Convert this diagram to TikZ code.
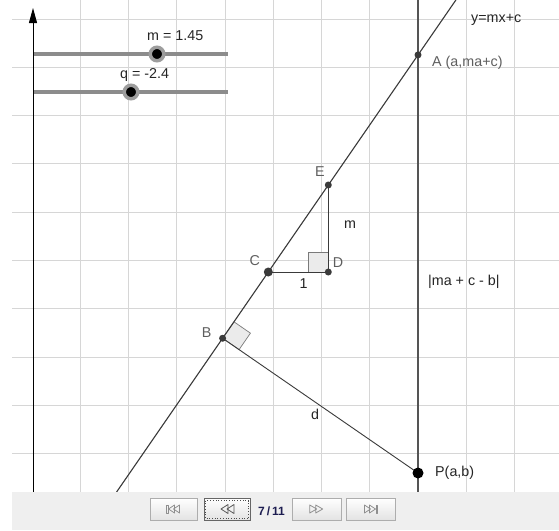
\documentclass[tikz,border=0pt]{standalone}
\usepackage{fontspec}
\setmainfont{Liberation Sans}
\usetikzlibrary{calc,arrows.meta}
\definecolor{gridc}{HTML}{D6D6D6}
\definecolor{txtdark}{HTML}{252525}
\definecolor{txtgray}{HTML}{5E5E5E}
\definecolor{linec}{HTML}{3A3A3A}
\definecolor{vlinec}{HTML}{555555}
\definecolor{slidec}{HTML}{8C8C8C}
\definecolor{panelc}{HTML}{EFEFEF}
\definecolor{btnb}{HTML}{ADADAD}
\definecolor{iconc}{HTML}{8E8E8E}
\definecolor{navy}{HTML}{1C1C50}
\definecolor{anglef}{HTML}{EBEBEB}
\definecolor{angleb}{HTML}{7A7A7A}
\begin{document}
\begin{tikzpicture}[x=1pt,y=-1pt,
  gridline/.style={draw=gridc, line width=1pt},
  lbl/.style={font=\fontsize{14.3}{16}\selectfont, inner sep=0pt, anchor=base west, text=txtdark},
  plbl/.style={lbl, text=txtgray},
  pt/.style={circle, fill=linec, inner sep=0pt, minimum size=7pt},
  bigpt/.style={circle, fill=black, inner sep=0pt, minimum size=11pt},
  seg/.style={draw=linec, line width=0.9pt},
  track/.style={draw=slidec, line width=4pt},
  handle/.style={circle, fill=black, inner sep=0pt, minimum size=13.5pt, draw=slidec!85, line width=3.5pt},
  anglesq/.style={fill=anglef, draw=angleb, line width=0.7pt},
  btn/.style={draw=btnb, top color=white, bottom color=black!11, inner sep=0pt, minimum height=22pt, line width=0.8pt},
  icon/.style={draw=iconc, line width=0.8pt, line join=round}
]
\useasboundingbox[fill=white] (0,0) rectangle (559,530);

% grid
\foreach \gx in {80,128.3,176.6,225,273.2,321.5,369.8,418.1,466.4,514.7}
  \draw[gridline] (\gx,0) -- (\gx,492);
\foreach \gy in {19,67.3,115.6,163.9,212.2,260.5,308.8,357.1,405.4,453.7}
  \draw[gridline] (12,\gy) -- (559,\gy);

% sliders
\coordinate (ms0) at (33,54);
\coordinate (ms1) at (228,54);
\coordinate (qs0) at (33,92);
\coordinate (qs1) at (228,92);
\draw[track] (ms0) -- (ms1);
\draw[track] (qs0) -- (qs1);

% y-axis
\coordinate (ax0) at (33,492);
\coordinate (ax1) at (33,8);
\draw[black, line width=0.9pt, -{Triangle[length=15pt,width=8pt]}] (ax0) -- (ax1);

\node[handle] (mh) at (157,54) {};
\node[handle] (qh) at (131,92) {};
\node[lbl] (mlab) at (147,40) {m = 1.45};
\node[lbl] (qlab) at (120,78) {q = -2.4};

% main geometry
\coordinate (cC) at (268.3,272);
\coordinate (cA) at ($(cC)+(149.7,-217.1)$);
\coordinate (cD) at ($(cC)+(60,0)$);
\coordinate (cE) at ($(cD)+(0,-87)$);
\coordinate (cP) at (418,473);
\coordinate (cB) at ($(cC)!(cP)!(cA)$);
\coordinate (Ltop) at (455.9,0);
\coordinate (Lbot) at (116.6,492);
\coordinate (Vtop) at (418,0);
\coordinate (Vbot) at (418,492);

% right angle squares
\coordinate (B1) at ($(cB)!20pt!(cA)$);
\coordinate (B2) at ($(cB)!20pt!(cP)$);
\draw[anglesq] (cB) -- (B1) -- ($(B1)+(B2)-(cB)$) -- (B2) -- cycle;
\draw[anglesq] ($(cD)+(-20,-20)$) rectangle (cD);

% lines
\draw[draw=linec, line width=1.1pt] (Lbot) -- (Ltop);
\draw[draw=vlinec, line width=2.3pt] (Vtop) -- (Vbot);
\draw[seg] (cC) -- (cD) -- (cE);
\draw[seg] (cB) -- (cP);

% points
\node[pt] (A) at (cA) {};
\node[pt] (B) at (cB) {};
\node[pt, minimum size=9pt] (C) at (cC) {};
\node[pt] (D) at (cD) {};
\node[pt] (E) at (cE) {};
\node[bigpt] (P) at (cP) {};

% labels
\node[lbl] (eqlab) at (471,22.5) {y=mx+c};
\node[plbl] (Alab) at (432,66.5) {A (a,ma+c)};
\node[plbl] (Elab) at (315,176.7) {E};
\node[lbl] (mseg) at (344,228.3) {m};
\node[plbl] (Clab) at (249.3,265) {C};
\node[plbl] (Dlab) at (332.7,267) {D};
\node[lbl] (one) at (299.3,288) {1};
\node[plbl] (Blab) at (201.7,337) {B};
\node[lbl] (dlab) at (311,419) {d};
\node[lbl] (dist) at (428,285) {|ma + c - b|};
\node[lbl] (Plab) at (435,476) {P(a,b)};

% bottom panel
\fill[panelc] (12,492) rectangle (559,530);
\node[btn, minimum width=47pt] (b1) at (173.5,509) {};
\node[btn, minimum width=46pt, draw=black!60] (b2) at (227,509) {};
\node[btn, minimum width=49pt] (b3) at (316.5,509) {};
\node[btn, minimum width=49pt] (b4) at (370.5,509) {};
\node[inner sep=0pt, anchor=base west, text=navy, font=\fontsize{12}{14}\selectfont\bfseries] (cnt) at (258,515) {7\,/\,11};
\draw[black!70, line width=0.7pt, dotted] (205.7,500.7) rectangle (248.3,518.7);

\begin{scope}[shift={(b1.center)}]
  \draw[icon] (-7,-4) rectangle (-5.5,4);
  \draw[icon] (-5,0) -- (1,-4) -- (1,4) -- cycle;
  \draw[icon] (0,0) -- (6,-4) -- (6,4) -- cycle;
\end{scope}
\begin{scope}[shift={(228,509)}]
  \draw[icon, draw=black!65] (-7,0) -- (0,-4.5) -- (0,4.5) -- cycle;
  \draw[icon, draw=black!65] (-1,0) -- (6,-4.5) -- (6,4.5) -- cycle;
\end{scope}
\begin{scope}[shift={(315.7,509)}]
  \draw[icon] (1,0) -- (-6,-4) -- (-6,4) -- cycle;
  \draw[icon] (7,0) -- (0,-4) -- (0,4) -- cycle;
\end{scope}
\begin{scope}[shift={(b4.center)}]
  \draw[icon] (0,0) -- (-6,-4) -- (-6,4) -- cycle;
  \draw[icon] (5,0) -- (-1,-4) -- (-1,4) -- cycle;
  \draw[icon] (5.5,-4) rectangle (7,4);
\end{scope}
\end{tikzpicture}
\end{document}
